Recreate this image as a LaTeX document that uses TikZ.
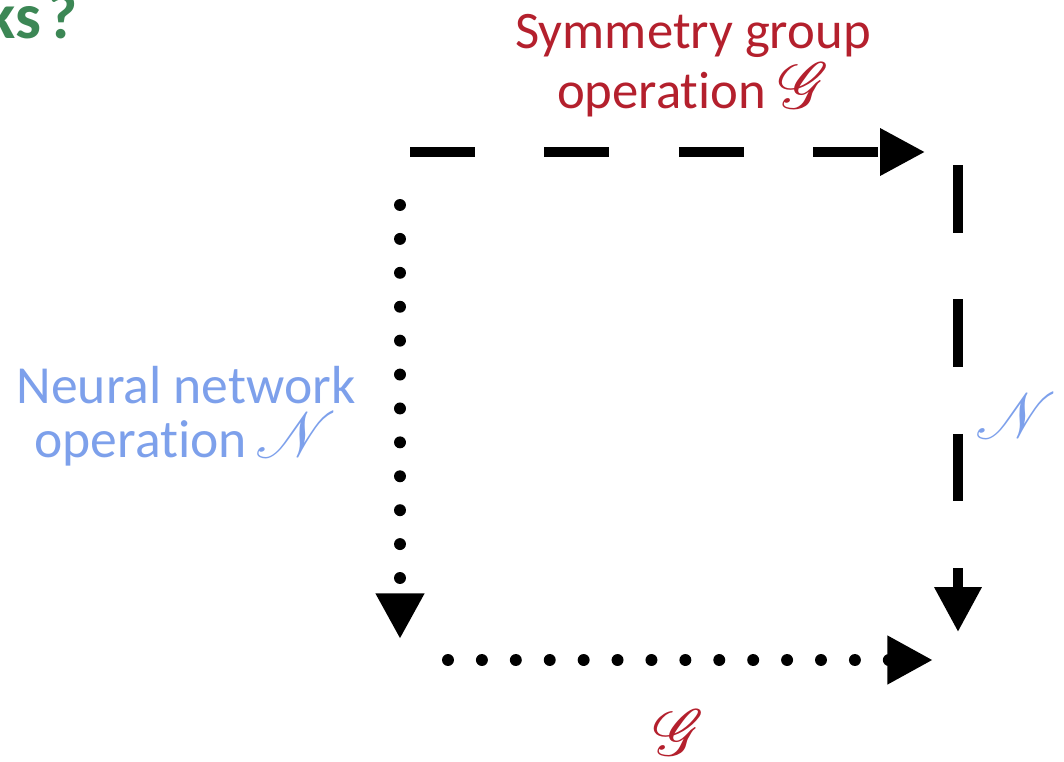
\documentclass[tikz,border=0pt]{standalone}
\usepackage{fontspec}
\setmainfont{Carlito}[Ligatures=NoCommon]
\DeclareFontFamily{U}{rsfs}{\skewchar\font127 }
\DeclareFontShape{U}{rsfs}{m}{n}{<-> s * [1] rsfs10}{}
\usepackage{mathrsfs}
\usetikzlibrary{arrows.meta}
\definecolor{symred}{RGB}{180,32,45}
\definecolor{nnblue}{RGB}{125,160,235}
\definecolor{titlegreen}{RGB}{60,135,85}
\newcommand{\bigscr}[1]{{\fontsize{37}{30}\selectfont$\mathscr{#1}$}}
\begin{document}
\begin{tikzpicture}[x=0.02cm,y=-0.02cm,
  dasharrow/.style={line width=5.7pt, dash pattern=on 37pt off 39.5pt,
    -{Triangle[length=25.5pt,width=25.5pt]}},
  dotarrow/.style={line width=6.8pt, line cap=round, dash pattern=on 0pt off 19.3pt,
    -{Triangle[length=26pt,width=26pt,line cap=butt]}},
  lbl/.style={align=center, inner sep=0pt}]
\useasboundingbox (0,0) rectangle (1064,761);
% corners
\coordinate (tl) at (410,152);
\coordinate (tr) at (925,152);
\coordinate (rt) at (958,165);
\coordinate (rb) at (958,632);
\coordinate (lt) at (400,205);
\coordinate (lb) at (400,639);
\coordinate (bl) at (448,660);
\coordinate (br) at (933,660);
% connectors
\draw[dasharrow] (tl) -- (tr);
\draw[dasharrow, dash pattern=on 38.5pt off 38pt] (rt) -- (rb);
\draw[dotarrow] (lt) -- (lb);
\draw[dotarrow] (bl) -- (br);
% labels
\node[anchor=base east, inner sep=0pt, text=titlegreen,
  font=\bfseries\fontsize{37}{40}\selectfont] (title) at (78,38) {ks\kern0.1em?};
\node[lbl, text=symred, anchor=base, font=\fontsize{30}{34}\selectfont] (glabel) at (693,108)
  {Symmetry group\\operation \bigscr{G}};
\node[lbl, text=nnblue, anchor=base, font=\fontsize{30.5}{30.6}\selectfont] (nlabel) at (186,457)
  {Neural network\\operation\,\bigscr{N}};
\node[lbl, text=nnblue] (nright) at (1016,416) {\bigscr{N}};
\node[lbl, text=symred] (gbottom) at (679,733) {\bigscr{G}};
\end{tikzpicture}
\end{document}
